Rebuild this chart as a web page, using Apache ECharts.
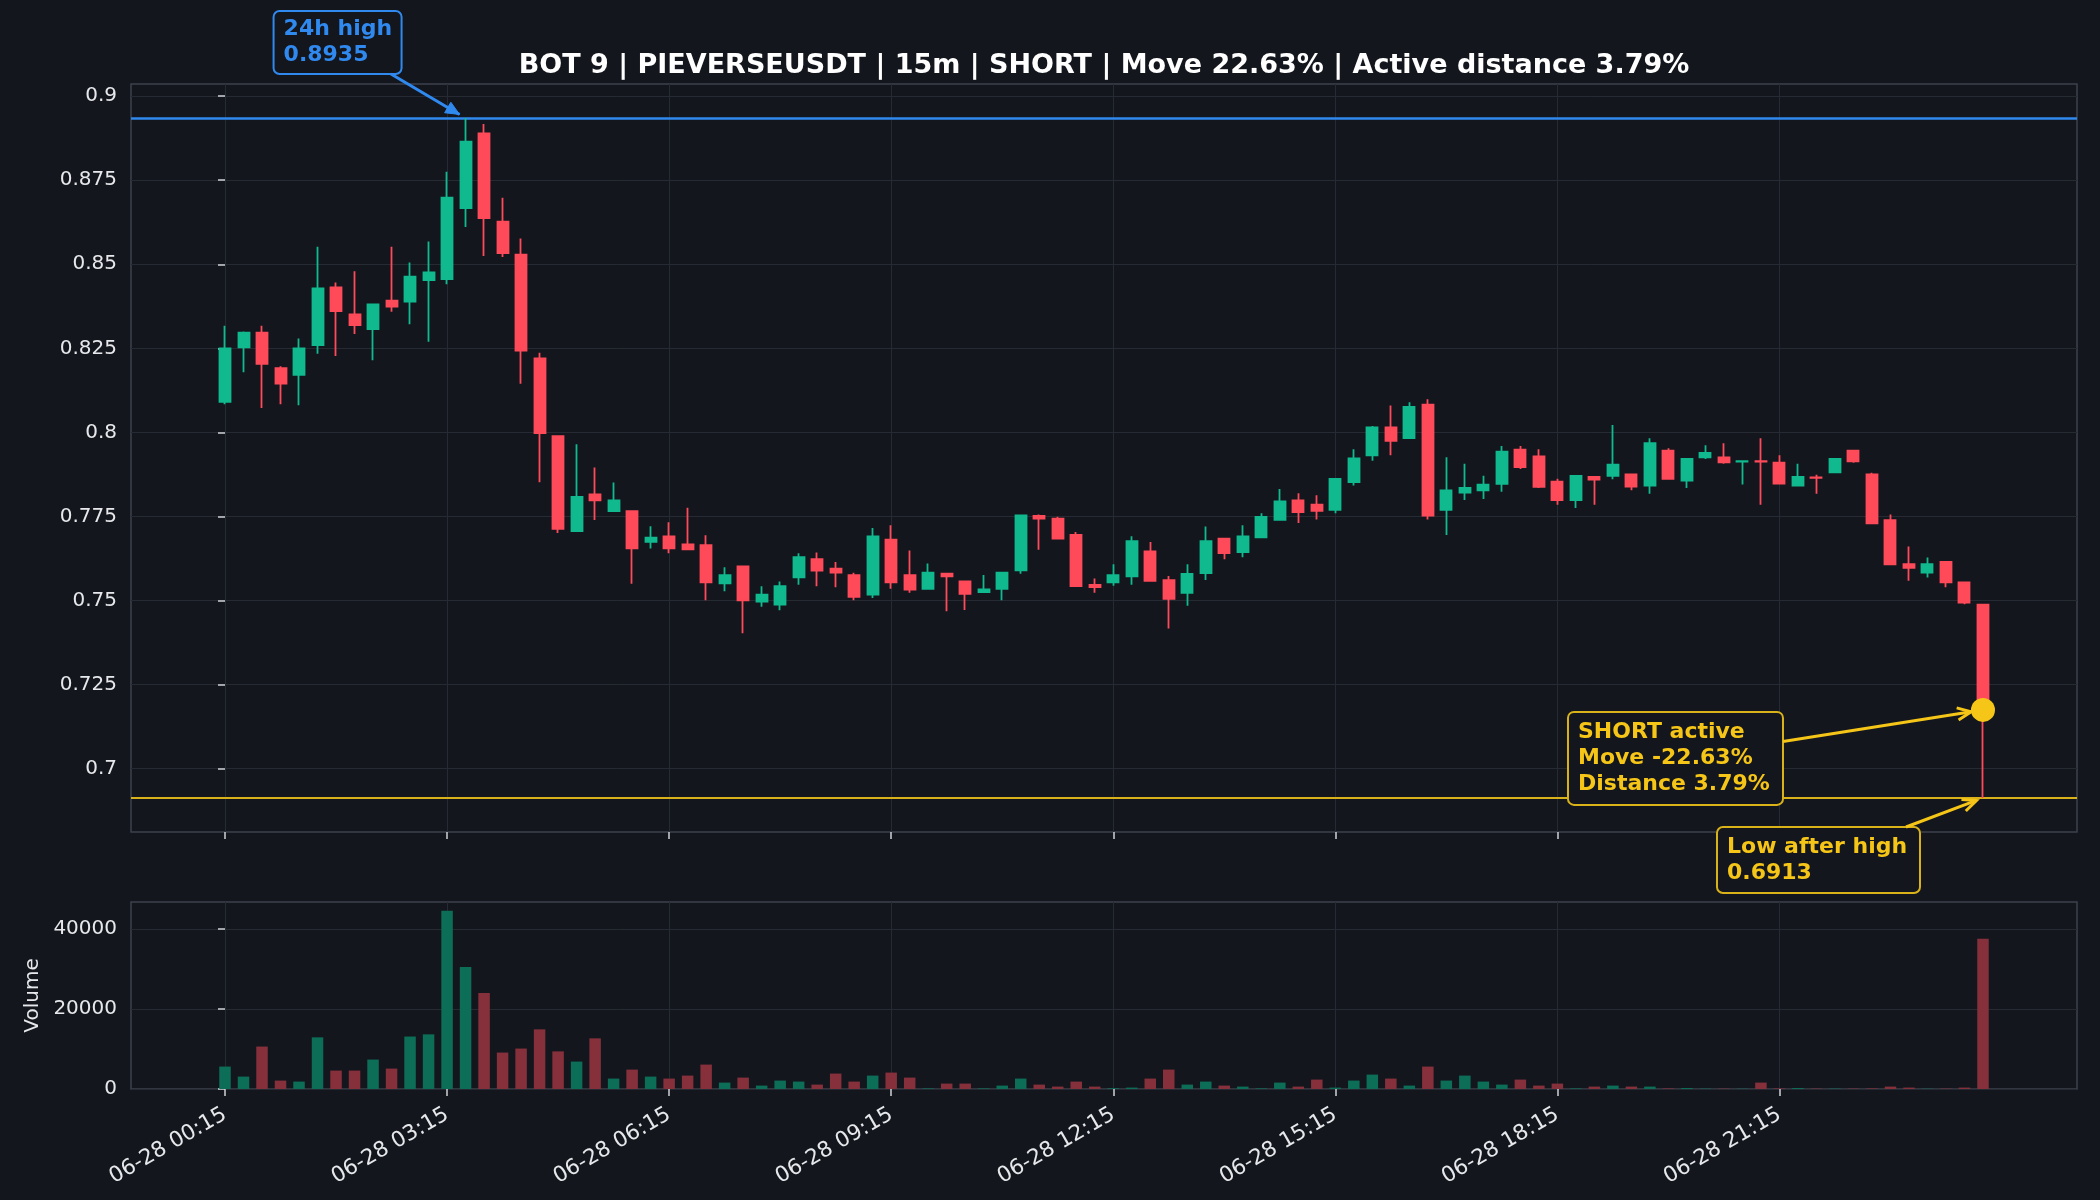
<!DOCTYPE html>
<html><head><meta charset="utf-8">
<script src="https://cdn.jsdelivr.net/npm/echarts@6/dist/echarts.min.js"></script>
<style>html,body{margin:0;padding:0;background:#13161d;}#c{width:2100px;height:1200px;}</style>
</head><body><div id="c"></div>
<script>
// ---- data ----
const opens  = [0.8091,0.8253,0.8297,0.8191,0.8171,0.8260,0.8431,0.8351,0.8307,0.8392,0.8389,0.8453,0.8456,0.8667,0.8889,0.8627,0.8529,0.8220,0.7989,0.7707,0.7816,0.7766,0.7766,0.7675,0.7691,0.7667,0.7665,0.7551,0.7602,0.7497,0.7488,0.7569,0.7623,0.7595,0.7576,0.7518,0.7681,0.7576,0.7535,0.7580,0.7557,0.7525,0.7535,0.7590,0.7752,0.7744,0.7695,0.7547,0.7554,0.7572,0.7646,0.7561,0.7523,0.7582,0.7684,0.7644,0.7688,0.7740,0.7798,0.7785,0.7770,0.7852,0.7932,0.8015,0.7983,0.8083,0.7770,0.7821,0.7828,0.7847,0.7949,0.7929,0.7854,0.7799,0.7868,0.7871,0.7875,0.7842,0.7946,0.7857,0.7926,0.7926,0.7913,0.7915,0.7910,0.7842,0.7866,0.7881,0.7946,0.7875,0.7739,0.7608,0.7583,0.7615,0.7554,0.7488];
const closes = [0.8250,0.8297,0.8204,0.8145,0.8250,0.8428,0.8361,0.8319,0.8381,0.8374,0.8463,0.8476,0.8698,0.8865,0.8637,0.8533,0.8243,0.7998,0.7713,0.7808,0.7798,0.7798,0.7655,0.7687,0.7655,0.7652,0.7554,0.7576,0.7501,0.7518,0.7543,0.7629,0.7589,0.7583,0.7511,0.7691,0.7554,0.7533,0.7583,0.7572,0.7520,0.7533,0.7583,0.7753,0.7744,0.7684,0.7543,0.7540,0.7576,0.7677,0.7559,0.7505,0.7579,0.7677,0.7641,0.7691,0.7749,0.7795,0.7763,0.7767,0.7862,0.7923,0.8015,0.7975,0.8076,0.7753,0.7828,0.7835,0.7845,0.7943,0.7897,0.7838,0.7799,0.7871,0.7860,0.7904,0.7839,0.7968,0.7862,0.7921,0.7939,0.7911,0.7915,0.7913,0.7848,0.7868,0.7865,0.7921,0.7914,0.7730,0.7608,0.7597,0.7608,0.7554,0.7494,0.7175];
const lows   = [0.8084,0.8179,0.8073,0.8084,0.8081,0.8234,0.8227,0.8293,0.8215,0.8359,0.8322,0.8270,0.8441,0.8611,0.8525,0.8522,0.8145,0.7852,0.7701,0.7707,0.7740,0.7766,0.7550,0.7655,0.7641,0.7652,0.7501,0.7528,0.7403,0.7482,0.7471,0.7547,0.7543,0.7540,0.7501,0.7508,0.7535,0.7523,0.7533,0.7468,0.7472,0.7525,0.7501,0.7580,0.7651,0.7684,0.7543,0.7523,0.7544,0.7547,0.7559,0.7417,0.7485,0.7561,0.7623,0.7629,0.7688,0.7740,0.7731,0.7741,0.7760,0.7842,0.7916,0.7932,0.7983,0.7741,0.7695,0.7799,0.7802,0.7824,0.7891,0.7835,0.7785,0.7775,0.7785,0.7861,0.7828,0.7818,0.7860,0.7835,0.7921,0.7907,0.7845,0.7785,0.7848,0.7842,0.7818,0.7881,0.7910,0.7730,0.7608,0.7559,0.7569,0.7540,0.7489,0.6913];
const highs  = [0.8317,0.8300,0.8317,0.8197,0.8279,0.8552,0.8446,0.8479,0.8381,0.8552,0.8505,0.8568,0.8775,0.8935,0.8917,0.8698,0.8577,0.8237,0.7989,0.7965,0.7896,0.7851,0.7766,0.7721,0.7733,0.7776,0.7694,0.7599,0.7602,0.7543,0.7557,0.7641,0.7643,0.7615,0.7583,0.7716,0.7724,0.7649,0.7610,0.7583,0.7557,0.7576,0.7586,0.7756,0.7756,0.7749,0.7704,0.7566,0.7608,0.7691,0.7674,0.7573,0.7608,0.7720,0.7684,0.7724,0.7760,0.7832,0.7819,0.7813,0.7862,0.7950,0.8019,0.8080,0.8090,0.8099,0.7926,0.7907,0.7871,0.7960,0.7960,0.7950,0.7862,0.7871,0.7868,0.8022,0.7875,0.7983,0.7953,0.7921,0.7962,0.7968,0.7915,0.7983,0.7932,0.7907,0.7874,0.7921,0.7946,0.7880,0.7756,0.7661,0.7628,0.7615,0.7554,0.7488];
const volumes = [5600,3100,10600,2100,1850,12900,4600,4600,7350,5100,13100,13650,44500,30450,23950,9100,10100,14900,9400,6850,12650,2600,4850,3100,2600,3350,6100,1600,2850,850,2100,1850,1100,3850,1850,3350,4100,2850,150,1350,1350,150,850,2600,1100,600,1850,600,200,350,2600,4850,1100,1850,850,600,150,1600,600,2350,350,2100,3600,2600,850,5600,2100,3350,1850,1100,2350,850,1350,150,600,850,600,600,150,250,100,100,80,1600,150,250,100,100,100,150,600,350,80,100,350,37500];
const tickIndex  = [0,12,24,36,48,60,72,84];
const tickLabels = ['06-28 00:15','06-28 03:15','06-28 06:15','06-28 09:15','06-28 12:15','06-28 15:15','06-28 18:15','06-28 21:15'];
const priceTicks  = [0.7,0.725,0.75,0.775,0.8,0.825,0.85,0.875,0.9];
const volumeTicks = [0,20000,40000];
const high24h = 0.8935, highIndex = 13;
const lowAfterHigh = 0.6913, lowIndex = 95;
const currentPrice = 0.7175, currentIndex = 95;
const titleText = 'BOT 9 | PIEVERSEUSDT | 15m | SHORT | Move 22.63% | Active distance 3.79%';
const shortText = 'SHORT active\nMove -22.63%\nDistance 3.79%';

// ---- styling ----
const BG = '#13161d', UP = '#10b98e', DOWN = '#ff4a5a';
const VUP = '#0d6e58', VDOWN = '#86303c';
const BLUE = '#3089ee', YEL = '#f5c518', YLINE = '#d9b21a';
const FONT = '"DejaVu Sans", sans-serif';
const TXT = '#e6e8eb', GRIDC = '#262a33', FRAME = '#3c414c';

const candleData = opens.map((o, i) => [i, o, closes[i], lows[i], highs[i]]);
const volData = volumes.map((v, i) => ({value: [i, v], itemStyle: {color: closes[i] >= opens[i] ? VUP : VDOWN}}));

const xMin = -5.08, xMax = 100.08;
function xAxisCfg(gi, showLabels) {
  return {
    type: 'value', gridIndex: gi, min: xMin, max: xMax,
    axisLine: {show: false},
    axisTick: {show: true, customValues: tickIndex, length: 7, lineStyle: {color: '#d0d3d8', width: 1.5}},
    axisLabel: {show: showLabels, customValues: tickIndex, rotate: 30, margin: 24, color: TXT,
      fontFamily: FONT, fontSize: 21.5, formatter: v => tickLabels[tickIndex.indexOf(Math.round(v))] || ''},
    splitLine: {show: true, lineStyle: {color: GRIDC, width: 1}}
  };
}
function yAxisCfg(gi, min, max, ticks, fmt) {
  return {
    type: 'value', gridIndex: gi, min: min, max: max, scale: true,
    axisLine: {show: false},
    axisTick: {show: true, customValues: ticks, length: 7, lineStyle: {color: '#d0d3d8', width: 1.5}},
    axisLabel: {customValues: ticks, margin: 14, color: TXT, fontFamily: FONT, fontSize: 20, formatter: fmt,
      padding: [5, 0, 0, 0]},
    splitLine: {show: true, lineStyle: {color: GRIDC, width: 1}}
  };
}

const chart = echarts.init(document.getElementById('c'), null, {renderer: 'canvas', width: 2100, height: 1200});
const yMin = 0.68119, yMax = 0.90361;
const option = {
  animation: false,
  backgroundColor: BG,
  grid: [
    {left: 131, top: 84, width: 1946, height: 748, show: true, borderColor: FRAME, borderWidth: 1.5, backgroundColor: 'transparent'},
    {left: 131, top: 902, width: 1946, height: 187, show: true, borderColor: FRAME, borderWidth: 1.5, backgroundColor: 'transparent'}
  ],
  xAxis: [xAxisCfg(0, false), xAxisCfg(1, true)],
  yAxis: [
    yAxisCfg(0, yMin, yMax, priceTicks, v => String(+(+v).toFixed(4))),
    Object.assign(yAxisCfg(1, 0, 46700, volumeTicks, v => String(Math.round(v))), {
      name: 'Volume', nameLocation: 'middle', nameGap: 88, nameRotate: 90,
      nameTextStyle: {color: TXT, fontFamily: FONT, fontSize: 20}
    })
  ],
  series: [
    {
      type: 'candlestick', xAxisIndex: 0, yAxisIndex: 0,
      data: candleData, encode: {x: 0, y: [1, 2, 3, 4]},
      barWidth: 11.5,
      itemStyle: {color: UP, color0: DOWN, borderColor: UP, borderColor0: DOWN, borderColorDoji: DOWN, borderWidth: 1.8}
    },
    {
      type: 'bar', xAxisIndex: 1, yAxisIndex: 1, data: volData, barWidth: 11.5
    },
    {
      type: 'scatter', xAxisIndex: 0, yAxisIndex: 0, z: 20,
      data: [[currentIndex, currentPrice]], symbolSize: 24, itemStyle: {color: YEL, opacity: 1},
      markLine: {
        silent: true, symbol: 'none', label: {show: false}, animation: false, precision: 6, z: 1,
        data: [
          {yAxis: high24h, lineStyle: {color: BLUE, width: 2.5, type: 'solid', opacity: 1}},
          {yAxis: lowAfterHigh, lineStyle: {color: YLINE, width: 2.2, type: 'solid', opacity: 1}}
        ]
      }
    }
  ],
  graphic: [{
    type: 'text', z: 100,
    style: {x: 1104, y: 66, text: titleText, fill: '#ffffff', font: 'bold 27px ' + FONT,
      align: 'center', verticalAlign: 'middle', textAlign: 'center', textVerticalAlign: 'middle'}
  }]
};
chart.setOption(option);

// ---- annotations (boxes + arrows), anchored on data points ----
function px(x, y) { return chart.convertToPixel({xAxisIndex: 0, yAxisIndex: 0}, [x, y]); }
function clipRect(r, tx, ty) {
  const cx = r.x + r.w / 2, cy = r.y + r.h / 2, dx = tx - cx, dy = ty - cy;
  let t = Infinity;
  if (dx !== 0) t = Math.min(t, (dx > 0 ? r.w / 2 : -r.w / 2) / dx);
  if (dy !== 0) t = Math.min(t, (dy > 0 ? r.h / 2 : -r.h / 2) / dy);
  return [cx + dx * t, cy + dy * t];
}
function annotation(r, text, color, border, target, shrink, filledHead) {
  const s = clipRect(r, target[0], target[1]);
  const ang = Math.atan2(target[1] - s[1], target[0] - s[0]);
  const ex = target[0] - shrink * Math.cos(ang), ey = target[1] - shrink * Math.sin(ang);
  const hl = 15, hw = 0.42;
  const p1 = [ex - hl * Math.cos(ang - hw), ey - hl * Math.sin(ang - hw)];
  const p2 = [ex - hl * Math.cos(ang + hw), ey - hl * Math.sin(ang + hw)];
  const els = [
    {type: 'rect', z: 90, shape: {x: r.x, y: r.y, width: r.w, height: r.h, r: 6},
      style: {fill: BG, stroke: border, lineWidth: 2}},
    {type: 'text', z: 95, style: {x: r.x + 10, y: r.y + r.h / 2, text: text, fill: color,
      font: 'bold 22px ' + FONT, lineHeight: 26, verticalAlign: 'middle', textVerticalAlign: 'middle', align: 'left', textAlign: 'left'}},
    {type: 'line', z: 92, shape: {x1: s[0], y1: s[1], x2: ex, y2: ey}, style: {stroke: color, lineWidth: 3}}
  ];
  if (filledHead) {
    els.push({type: 'polygon', z: 93, shape: {points: [p1, [ex, ey], p2]}, style: {fill: color, stroke: color, lineWidth: 1}});
  } else {
    els.push({type: 'polyline', z: 93, shape: {points: [p1, [ex, ey], p2]}, style: {stroke: color, lineWidth: 3, fill: null}});
  }
  return els;
}
const pHigh = px(highIndex, high24h);
const pCur = px(currentIndex, currentPrice);
const pLow = px(lowIndex, lowAfterHigh);
const extra = []
  .concat(annotation({x: pHigh[0] - 192, y: pHigh[1] - 107, w: 128, h: 63}, '24h high\n' + high24h.toFixed(4), BLUE, BLUE, pHigh, 7, true))
  .concat(annotation({x: pCur[0] - 415, y: pCur[1] + 2, w: 215, h: 93}, shortText, YEL, YLINE, pCur, 12, false))
  .concat(annotation({x: pLow[0] - 266, y: pLow[1] + 29, w: 203, h: 66}, 'Low after high\n' + lowAfterHigh.toFixed(4), YEL, YLINE, pLow, 7, false));
chart.setOption({graphic: option.graphic.concat(extra)});
</script>
</body></html>
